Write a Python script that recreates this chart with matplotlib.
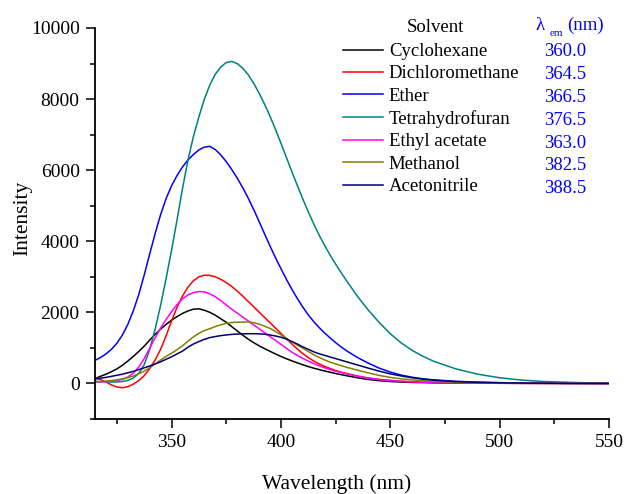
import matplotlib
matplotlib.use('Agg')
import matplotlib.pyplot as plt
from matplotlib.ticker import MultipleLocator

plt.rcParams['font.family'] = ['Liberation Serif', 'DejaVu Serif']

# emission spectra sampled on a common wavelength grid (nm)
wavelength = [315, 317.5, 320, 322.5, 325, 327.5, 330, 332.5, 335, 337.5,
              340, 342.5, 345, 347.5, 350, 352.5, 355, 357.5, 360, 362.5,
              365, 367.5, 370, 372.5, 375, 377.5, 380, 382.5, 385, 387.5,
              390, 392.5, 395, 397.5, 400, 402.5, 405, 407.5, 410, 412.5,
              415, 417.5, 420, 422.5, 425, 427.5, 430, 435, 440, 445,
              450, 455, 460, 465, 470, 480, 490, 500, 510, 520, 535, 550]

cyclohexane = [140, 200, 260, 330, 410, 510, 630, 760, 900, 1050,
               1220, 1380, 1530, 1660, 1780, 1880, 1970, 2040, 2090, 2100,
               2060, 2000, 1920, 1820, 1720, 1600, 1480, 1360, 1250, 1150,
               1060, 980, 905, 830, 760, 695, 635, 580, 525, 475,
               430, 390, 350, 315, 280, 248, 218, 160, 112, 78,
               55, 40, 30, 24, 18, 12, 8, 5, 3, 2, 1, 0]
dichloromethane = [170, 110, 40, -40, -100, -120, -90, -20, 80, 220,
                   420, 660, 960, 1340, 1760, 2140, 2460, 2710, 2890, 3000,
                   3045, 3040, 3000, 2930, 2840, 2730, 2600, 2460, 2310, 2160,
                   2010, 1860, 1710, 1560, 1410, 1260, 1110, 970, 840, 730,
                   630, 550, 480, 420, 365, 320, 280, 210, 155, 115,
                   85, 62, 46, 35, 26, 16, 10, 6, 4, 2, 1, 0]
ether = [650, 730, 830, 960, 1130, 1360, 1660, 2040, 2500, 3050,
         3640, 4220, 4750, 5200, 5560, 5850, 6090, 6290, 6440, 6570,
         6650, 6670, 6580, 6430, 6240, 6020, 5780, 5510, 5220, 4900,
         4560, 4210, 3870, 3540, 3230, 2930, 2650, 2390, 2150, 1930,
         1740, 1570, 1420, 1280, 1150, 1030, 920, 730, 570, 430,
         320, 235, 175, 130, 100, 60, 37, 23, 14, 8, 3, 0]
thf = [60, 50, 45, 40, 42, 55, 85, 150, 280, 530,
       950, 1530, 2200, 2950, 3750, 4600, 5480, 6280, 6950, 7500,
       8000, 8400, 8700, 8900, 9030, 9060, 9000, 8870, 8690, 8450,
       8170, 7860, 7520, 7150, 6760, 6360, 5960, 5570, 5190, 4830,
       4490, 4170, 3880, 3610, 3360, 3120, 2890, 2450, 2060, 1710,
       1400, 1140, 930, 760, 620, 410, 260, 160, 95, 55, 25, 10]
ethyl_acetate = [40, 45, 52, 62, 80, 115, 180, 290, 460, 700,
                 990, 1280, 1560, 1800, 2020, 2220, 2380, 2490, 2555, 2585,
                 2575, 2520, 2440, 2330, 2210, 2090, 1980, 1870, 1760, 1650,
                 1540, 1430, 1320, 1210, 1100, 990, 880, 790, 705, 630,
                 560, 495, 440, 390, 345, 305, 270, 200, 145, 105,
                 80, 60, 45, 35, 26, 16, 10, 6, 4, 2, 1, 0]
methanol = [50, 55, 65, 80, 100, 130, 160, 210, 270, 350,
            440, 550, 660, 760, 850, 950, 1060, 1190, 1310, 1410,
            1490, 1540, 1600, 1650, 1690, 1715, 1725, 1728, 1728, 1710,
            1670, 1610, 1550, 1460, 1370, 1270, 1170, 1080, 990, 900,
            810, 730, 660, 600, 550, 500, 455, 375, 295, 225,
            170, 130, 100, 75, 57, 36, 22, 14, 8, 5, 2, 0]
acetonitrile = [120, 150, 170, 200, 230, 260, 300, 340, 390, 440,
                490, 550, 610, 680, 750, 830, 910, 1020, 1110, 1180,
                1240, 1290, 1320, 1345, 1365, 1380, 1390, 1395, 1400, 1400,
                1395, 1385, 1365, 1335, 1300, 1250, 1180, 1110, 1030, 960,
                890, 835, 790, 745, 700, 655, 610, 520, 430, 345,
                270, 210, 160, 120, 92, 52, 30, 18, 10, 6, 2, 0]

solvents = ['Cyclohexane', 'Dichloromethane', 'Ether', 'Tetrahydrofuran',
            'Ethyl acetate', 'Methanol', 'Acetonitrile']
lambda_em = ['360.0', '364.5', '366.5', '376.5', '363.0', '382.5', '388.5']
spectra = [cyclohexane, dichloromethane, ether, thf, ethyl_acetate, methanol, acetonitrile]
colors = ['black', '#FF0000', '#0000FF', '#008080', '#FF00FF', '#808000', '#000075']

W, H = 627, 494
fig = plt.figure(figsize=(W / 100, H / 100), dpi=100)
ax = fig.add_axes([95 / W, 1 - 419 / H, (609 - 95) / W, (419 - 28) / H])

for name, y, c in zip(solvents, spectra, colors):
    ax.plot(wavelength, y, color=c, lw=1.1, label=name)

ax.set_xlim(315, 550)
ax.set_ylim(-1000, 10000)
ax.xaxis.set_major_locator(MultipleLocator(50))
ax.xaxis.set_minor_locator(MultipleLocator(25))
ax.yaxis.set_major_locator(MultipleLocator(2000))
ax.yaxis.set_minor_locator(MultipleLocator(1000))
for s in ['top', 'right']:
    ax.spines[s].set_visible(False)
for s in ['left', 'bottom']:
    ax.spines[s].set_linewidth(1.3)
ax.tick_params(which='major', direction='out', length=6.5, width=1.1, labelsize=14, pad=4.5)
ax.tick_params(which='minor', direction='out', length=3.5, width=1.1)

ax.set_xlabel('Wavelength (nm)', fontsize=15.5)
ax.set_ylabel('Intensity', fontsize=15.5, va='center')
ax.xaxis.set_label_coords(0.471, -0.142)
ax.yaxis.set_label_coords(-0.140, 0.514)

fs = 13.5
leg = ax.legend(loc='upper left', bbox_to_anchor=(343 / W, 1 - 43 / H),
                bbox_transform=fig.transFigure, frameon=False, fontsize=fs,
                borderpad=0, borderaxespad=0, handlelength=2.13, handletextpad=0.32,
                labelspacing=0.28)

fig.text(435 / W, 1 - 28 / H, 'Solvent', ha='center', va='center', fontsize=fs)
fig.text(540 / W, 1 - 25 / H, 'λ', ha='center', va='center', fontsize=fs, color='blue')
fig.text(556 / W, 1 - 33 / H, 'em', ha='center', va='center', fontsize=8, color='blue')
fig.text(567 / W, 1 - 25 / H, '(nm)', ha='left', va='center', fontsize=fs, color='blue')
for i, v in enumerate(lambda_em):
    fig.text(565 / W, 1 - (52 + 22.8 * i) / H, v, ha='center', va='center',
             fontsize=fs, color='blue')

fig.savefig('out.png', dpi=100)
